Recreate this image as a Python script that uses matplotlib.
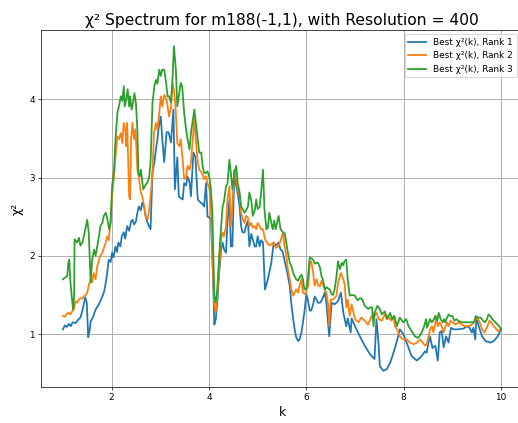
import matplotlib
matplotlib.use("Agg")
import matplotlib.pyplot as plt

# Rank 1 best chi^2 per wavenumber
k_rank1 = [1.00, 1.04, 1.08, 1.12, 1.16, 1.20, 1.26, 1.31, 1.36, 1.40, 1.46, 1.49, 1.52, 1.55, 1.57,
           1.62, 1.67, 1.72, 1.77, 1.81, 1.85, 1.88, 1.91, 1.94, 1.98, 2.01, 2.04, 2.08, 2.11, 2.14,
           2.18, 2.21, 2.25, 2.28, 2.32, 2.36, 2.40, 2.43, 2.46, 2.50, 2.53, 2.56, 2.60, 2.63, 2.67,
           2.70, 2.74, 2.77, 2.80, 2.84, 2.88, 2.91, 2.94, 2.97, 3.01, 3.04, 3.08, 3.13, 3.17, 3.22,
           3.27, 3.30, 3.35, 3.38, 3.42, 3.46, 3.49, 3.53, 3.56, 3.60, 3.63, 3.68, 3.72, 3.77, 3.80,
           3.83, 3.87, 3.90, 3.94, 3.97, 4.01, 4.04, 4.08, 4.11, 4.14, 4.17, 4.21, 4.25, 4.28, 4.31,
           4.35, 4.38, 4.42, 4.45, 4.48, 4.52, 4.56, 4.59, 4.63, 4.66, 4.69, 4.73, 4.76, 4.80, 4.83,
           4.87, 4.90, 4.94, 4.97, 5.00, 5.04, 5.07, 5.11, 5.15, 5.21, 5.28, 5.33, 5.37, 5.43, 5.47,
           5.51, 5.55, 5.61, 5.66, 5.69, 5.73, 5.76, 5.79, 5.83, 5.86, 5.90, 5.93, 5.96, 6.00, 6.03,
           6.07, 6.10, 6.14, 6.17, 6.21, 6.24, 6.28, 6.31, 6.38, 6.41, 6.47, 6.52, 6.58, 6.65, 6.71,
           6.76, 6.82, 6.85, 6.91, 6.93, 7.00, 7.10, 7.20, 7.31, 7.40, 7.44, 7.48, 7.51, 7.58, 7.65,
           7.72, 7.79, 7.86, 7.92, 7.99, 8.06, 8.16, 8.27, 8.37, 8.44, 8.47, 8.51, 8.54, 8.59, 8.65,
           8.70, 8.74, 8.78, 8.82, 8.87, 8.92, 8.97, 9.02, 9.12, 9.23, 9.30, 9.35, 9.40, 9.43, 9.47,
           9.49, 9.54, 9.61, 9.68, 9.78, 9.85, 9.93, 10.00]
chi2_rank1 = [1.06, 1.11, 1.09, 1.13, 1.10, 1.15, 1.14, 1.18, 1.21, 1.30, 1.47, 1.40, 0.96, 1.05, 1.16,
              1.22, 1.31, 1.36, 1.42, 1.48, 1.55, 1.66, 1.78, 1.95, 1.92, 2.04, 1.98, 2.12, 2.05, 2.17,
              2.12, 2.25, 2.30, 2.22, 2.38, 2.32, 2.44, 2.46, 2.40, 2.44, 2.55, 2.63, 2.58, 2.68, 2.62,
              2.50, 2.42, 2.38, 2.34, 3.07, 3.20, 3.36, 3.48, 3.65, 3.78, 3.50, 3.20, 3.58, 3.58, 3.45,
              3.87, 2.85, 3.26, 2.76, 2.74, 2.72, 2.93, 2.90, 3.01, 2.95, 2.76, 3.32, 3.27, 2.72, 2.70,
              2.68, 2.66, 2.63, 2.93, 2.50, 2.49, 2.46, 1.79, 1.12, 1.19, 1.40, 1.79, 2.08, 2.17, 2.08,
              2.04, 2.43, 2.72, 2.12, 2.12, 3.06, 2.89, 2.80, 2.63, 2.38, 2.30, 2.30, 2.38, 2.45, 2.12,
              2.28, 2.21, 2.12, 2.12, 2.25, 2.12, 2.20, 2.17, 1.57, 1.70, 1.91, 2.17, 2.13, 2.17, 2.08,
              2.06, 1.95, 1.78, 1.61, 1.40, 1.19, 1.06, 0.96, 0.91, 0.93, 1.02, 1.15, 1.28, 1.51, 1.44,
              1.30, 1.30, 1.38, 1.48, 1.44, 1.40, 1.40, 1.42, 1.53, 1.40, 0.97, 1.40, 1.38, 1.42, 1.53,
              1.27, 1.10, 1.20, 1.02, 1.20, 1.10, 0.97, 0.85, 0.74, 0.68, 1.19, 0.90, 0.59, 0.53, 0.55,
              0.63, 0.76, 0.91, 1.06, 1.00, 0.89, 0.72, 0.66, 0.72, 0.78, 0.76, 0.89, 0.97, 0.82, 0.85,
              0.66, 1.02, 1.04, 0.83, 0.97, 0.89, 1.08, 1.06, 1.06, 1.07, 1.10, 1.08, 1.02, 1.08, 0.93,
              1.21, 1.10, 0.97, 0.91, 0.89, 0.91, 0.97, 1.06]

# Rank 2 best chi^2 per wavenumber
k_rank2 = [1.00, 1.04, 1.08, 1.12, 1.15, 1.19, 1.22, 1.26, 1.29, 1.33, 1.36, 1.40, 1.43, 1.47, 1.50,
           1.53, 1.57, 1.60, 1.63, 1.67, 1.70, 1.74, 1.77, 1.81, 1.84, 1.88, 1.91, 1.94, 1.98, 2.01,
           2.05, 2.08, 2.12, 2.15, 2.19, 2.22, 2.25, 2.29, 2.30, 2.32, 2.36, 2.38, 2.40, 2.43, 2.46,
           2.49, 2.53, 2.56, 2.60, 2.63, 2.67, 2.70, 2.74, 2.77, 2.80, 2.84, 2.87, 2.91, 2.94, 2.98,
           3.01, 3.04, 3.08, 3.13, 3.15, 3.18, 3.22, 3.25, 3.28, 3.30, 3.32, 3.35, 3.39, 3.42, 3.46,
           3.49, 3.53, 3.56, 3.60, 3.63, 3.66, 3.70, 3.73, 3.77, 3.80, 3.83, 3.87, 3.90, 3.94, 3.97,
           4.01, 4.04, 4.07, 4.11, 4.14, 4.17, 4.21, 4.25, 4.28, 4.31, 4.35, 4.38, 4.42, 4.45, 4.48,
           4.52, 4.56, 4.59, 4.63, 4.66, 4.69, 4.73, 4.76, 4.80, 4.83, 4.87, 4.90, 4.94, 4.97, 5.00,
           5.04, 5.07, 5.11, 5.15, 5.19, 5.24, 5.28, 5.33, 5.37, 5.42, 5.47, 5.52, 5.55, 5.59, 5.62,
           5.66, 5.69, 5.73, 5.76, 5.79, 5.83, 5.86, 5.90, 5.93, 5.97, 6.00, 6.04, 6.07, 6.10, 6.14,
           6.17, 6.21, 6.24, 6.28, 6.31, 6.38, 6.41, 6.45, 6.47, 6.50, 6.55, 6.62, 6.65, 6.71, 6.76,
           6.79, 6.82, 6.85, 6.89, 6.93, 6.96, 7.00, 7.07, 7.13, 7.20, 7.27, 7.34, 7.40, 7.44, 7.49,
           7.55, 7.61, 7.65, 7.70, 7.75, 7.79, 7.82, 7.88, 7.92, 7.99, 8.06, 8.13, 8.20, 8.27, 8.34,
           8.39, 8.44, 8.47, 8.51, 8.54, 8.58, 8.61, 8.65, 8.67, 8.70, 8.74, 8.78, 8.82, 8.85, 8.89,
           8.92, 8.96, 9.00, 9.06, 9.13, 9.19, 9.26, 9.33, 9.40, 9.44, 9.48, 9.51, 9.56, 9.61, 9.66,
           9.72, 9.76, 9.80, 9.85, 9.93, 10.00]
chi2_rank2 = [1.23, 1.22, 1.26, 1.27, 1.25, 1.29, 1.31, 1.42, 1.40, 1.44, 1.46, 1.45, 1.48, 1.50, 1.53,
              1.62, 1.70, 1.66, 1.78, 1.70, 1.85, 1.95, 2.00, 2.04, 2.10, 2.17, 2.25, 2.20, 2.46, 2.76,
              3.02, 3.27, 3.53, 3.49, 3.57, 3.44, 3.70, 3.57, 3.40, 3.70, 2.76, 2.72, 3.49, 3.70, 3.49,
              3.62, 3.10, 3.00, 2.81, 2.76, 2.63, 2.51, 2.46, 2.59, 2.76, 3.06, 3.57, 3.70, 3.61, 3.83,
              4.04, 3.91, 4.06, 4.00, 3.91, 3.78, 3.90, 4.21, 4.12, 4.00, 3.83, 3.44, 3.40, 3.49, 3.23,
              2.98, 3.00, 3.15, 3.10, 3.19, 3.44, 3.75, 3.49, 3.19, 3.10, 3.08, 3.04, 2.98, 3.02, 2.93,
              2.85, 2.63, 2.00, 1.36, 1.28, 1.49, 1.83, 2.21, 2.30, 2.25, 2.38, 2.72, 2.89, 2.38, 2.63,
              3.10, 2.98, 2.85, 2.76, 2.55, 2.47, 2.42, 2.51, 2.49, 2.38, 2.42, 2.36, 2.38, 2.34, 2.42,
              2.38, 2.34, 2.34, 2.21, 2.17, 2.13, 2.15, 2.17, 2.10, 2.12, 2.19, 2.30, 2.13, 2.00, 1.83,
              1.70, 1.57, 1.49, 1.53, 1.57, 1.53, 1.62, 1.70, 1.53, 1.51, 1.55, 1.62, 1.91, 1.93, 1.78,
              1.62, 1.70, 1.62, 1.61, 1.68, 1.57, 1.53, 1.36, 1.10, 1.44, 1.44, 1.49, 1.66, 1.78, 1.70,
              1.62, 1.34, 1.44, 1.23, 1.38, 1.30, 1.19, 1.15, 1.21, 1.17, 1.12, 1.23, 1.23, 1.27, 1.19,
              1.17, 1.25, 1.19, 1.21, 1.17, 1.23, 1.10, 1.04, 0.97, 0.93, 0.93, 0.89, 0.87, 0.89, 0.93,
              0.89, 0.85, 0.87, 0.97, 1.06, 1.10, 1.02, 1.15, 1.23, 1.10, 1.15, 1.10, 1.02, 1.08, 1.15,
              1.10, 1.17, 1.15, 1.12, 1.15, 1.12, 1.10, 1.10, 1.12, 1.15, 1.19, 1.21, 1.15, 1.06, 1.02,
              1.10, 1.17, 1.15, 1.10, 1.04, 1.06]

# Rank 3 best chi^2 per wavenumber
k_rank3 = [1.00, 1.04, 1.09, 1.11, 1.13, 1.15, 1.18, 1.21, 1.23, 1.24, 1.29, 1.33, 1.36, 1.40, 1.43,
           1.46, 1.50, 1.53, 1.57, 1.60, 1.64, 1.67, 1.70, 1.74, 1.77, 1.81, 1.84, 1.88, 1.91, 1.95,
           1.98, 2.01, 2.05, 2.08, 2.12, 2.15, 2.19, 2.22, 2.25, 2.27, 2.30, 2.33, 2.36, 2.38, 2.41,
           2.44, 2.47, 2.50, 2.53, 2.55, 2.58, 2.60, 2.65, 2.69, 2.73, 2.77, 2.80, 2.84, 2.88, 2.91,
           2.94, 2.98, 3.01, 3.04, 3.08, 3.12, 3.15, 3.18, 3.22, 3.25, 3.28, 3.32, 3.35, 3.38, 3.42,
           3.45, 3.49, 3.53, 3.56, 3.60, 3.63, 3.66, 3.70, 3.73, 3.77, 3.80, 3.84, 3.87, 3.90, 3.94,
           3.97, 4.01, 4.04, 4.07, 4.09, 4.11, 4.14, 4.17, 4.21, 4.25, 4.28, 4.31, 4.35, 4.38, 4.42,
           4.45, 4.48, 4.52, 4.56, 4.59, 4.63, 4.66, 4.69, 4.73, 4.76, 4.80, 4.83, 4.87, 4.90, 4.94,
           4.97, 5.00, 5.04, 5.07, 5.11, 5.14, 5.18, 5.21, 5.24, 5.28, 5.31, 5.34, 5.37, 5.43, 5.47,
           5.52, 5.56, 5.61, 5.66, 5.69, 5.73, 5.76, 5.79, 5.83, 5.86, 5.90, 5.93, 5.96, 6.00, 6.03,
           6.07, 6.10, 6.14, 6.17, 6.21, 6.24, 6.28, 6.31, 6.34, 6.38, 6.42, 6.45, 6.48, 6.52, 6.55,
           6.58, 6.62, 6.65, 6.69, 6.73, 6.76, 6.78, 6.82, 6.85, 6.89, 6.93, 7.00, 7.05, 7.10, 7.15,
           7.20, 7.24, 7.27, 7.31, 7.35, 7.38, 7.40, 7.46, 7.51, 7.55, 7.61, 7.66, 7.72, 7.76, 7.81,
           7.86, 7.92, 7.99, 8.05, 8.10, 8.16, 8.23, 8.30, 8.37, 8.42, 8.46, 8.48, 8.54, 8.58, 8.62,
           8.65, 8.69, 8.72, 8.76, 8.80, 8.83, 8.85, 8.92, 8.96, 9.00, 9.04, 9.08, 9.12, 9.19, 9.26,
           9.33, 9.40, 9.44, 9.48, 9.53, 9.58, 9.63, 9.67, 9.71, 9.74, 9.78, 9.82, 9.88, 9.96, 10.00]
chi2_rank3 = [1.70, 1.72, 1.74, 1.91, 1.95, 1.70, 1.49, 1.31, 1.50, 2.21, 2.17, 2.23, 2.13, 2.17, 2.25,
              2.34, 2.46, 2.30, 1.66, 1.95, 2.08, 2.00, 2.10, 2.25, 2.38, 2.42, 2.51, 2.55, 2.48, 2.34,
              2.42, 2.89, 3.10, 3.49, 3.83, 3.91, 4.04, 3.98, 4.17, 3.91, 4.00, 4.13, 3.91, 4.04, 3.87,
              3.96, 4.08, 3.95, 3.61, 3.06, 3.02, 3.10, 2.85, 2.90, 2.93, 3.00, 3.19, 3.96, 4.17, 4.25,
              4.20, 4.38, 4.30, 4.38, 4.38, 4.21, 4.04, 4.04, 3.96, 4.25, 4.68, 4.38, 3.91, 4.04, 4.21,
              4.17, 3.83, 3.61, 3.49, 3.36, 3.57, 3.70, 3.87, 3.70, 3.49, 3.32, 3.32, 3.15, 3.06, 3.06,
              3.08, 3.00, 2.85, 2.55, 2.00, 1.49, 1.40, 1.57, 2.00, 2.38, 2.63, 2.70, 2.89, 2.92, 3.23,
              3.06, 2.85, 3.06, 3.15, 2.93, 2.81, 2.63, 2.60, 2.55, 2.58, 2.63, 2.81, 2.70, 2.51, 2.58,
              2.72, 2.60, 2.62, 2.80, 3.10, 2.59, 2.34, 2.36, 2.55, 2.42, 2.34, 2.45, 2.34, 2.51, 2.34,
              2.30, 2.28, 2.08, 1.91, 1.87, 1.78, 1.74, 1.70, 1.68, 1.72, 1.76, 1.70, 1.57, 1.58, 1.70,
              1.98, 1.97, 1.95, 1.90, 1.91, 1.91, 1.85, 1.74, 1.70, 1.57, 1.60, 1.58, 1.57, 1.51, 1.50,
              1.57, 1.74, 1.93, 1.83, 1.91, 1.88, 1.93, 1.95, 1.70, 1.49, 1.50, 1.49, 1.43, 1.46, 1.44,
              1.36, 1.34, 1.32, 1.34, 1.34, 1.10, 1.27, 1.36, 1.32, 1.25, 1.29, 1.20, 1.27, 1.19, 1.23,
              1.10, 1.21, 1.15, 1.19, 1.10, 1.04, 0.97, 0.95, 1.02, 1.10, 1.19, 1.08, 1.19, 1.15, 1.19,
              1.23, 1.17, 1.27, 1.19, 1.15, 1.19, 1.15, 1.25, 1.23, 1.23, 1.17, 1.19, 1.17, 1.15, 1.15,
              1.15, 1.15, 1.15, 1.23, 1.21, 1.21, 1.17, 1.15, 1.19, 1.25, 1.23, 1.19, 1.15, 1.10, 1.06]

series = [
    (k_rank1, chi2_rank1, "Best χ²(k), Rank 1", "#1f77b4"),
    (k_rank2, chi2_rank2, "Best χ²(k), Rank 2", "#ff7f0e"),
    (k_rank3, chi2_rank3, "Best χ²(k), Rank 3", "#2ca02c"),
]

DPI = 64
fig = plt.figure(figsize=(518 / DPI, 423 / DPI), dpi=DPI)
ax = fig.add_axes([41 / 518, 36 / 423, 482 / 518, 357 / 423])

for k, chi2, label, color in series:
    ax.plot(k, chi2, color=color, linewidth=2.0, label=label)

ax.set_title("χ² Spectrum for m188(-1,1), with Resolution = 400", fontsize=17.5, pad=6)
ax.set_xlabel("k", fontsize=14)
ax.set_ylabel("χ²", fontsize=14, labelpad=6)
ax.set_xticks([2, 4, 6, 8, 10])
ax.set_yticks([1, 2, 3, 4])
ax.grid(True, linewidth=1.1)
ax.legend(loc="upper right", fontsize=10, bbox_to_anchor=(0.996, 1.0))

fig.savefig("out.png", dpi=DPI)
